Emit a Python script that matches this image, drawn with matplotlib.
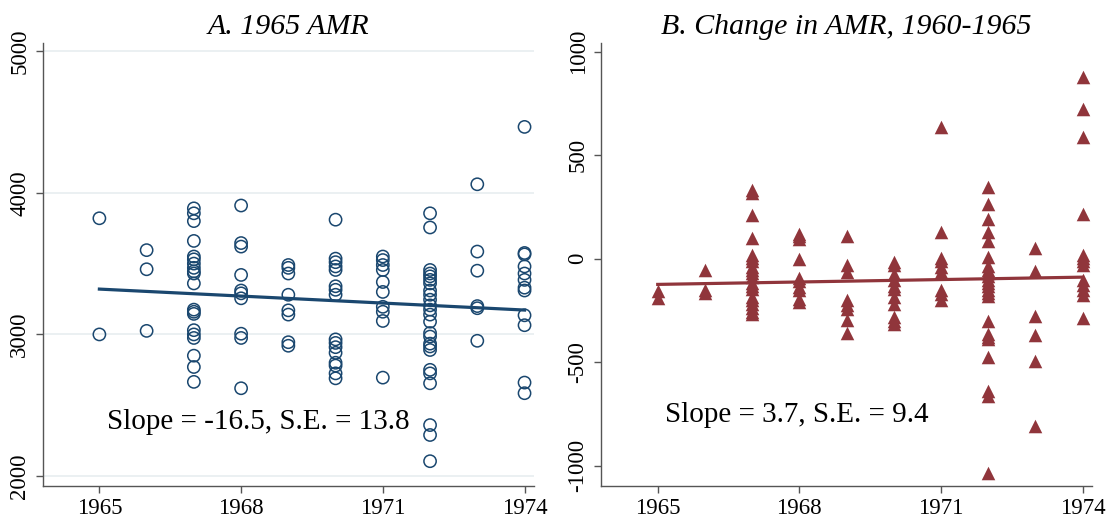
import matplotlib
matplotlib.use("Agg")
import matplotlib.pyplot as plt
import numpy as np

# ---- data ----
years = [1965, 1966, 1967, 1968, 1969, 1970, 1971, 1972, 1973, 1974]

amr_1965 = [
    [3820, 3000],
    [3595, 3460, 3025],
    [3890, 3855, 3800, 3660, 3550, 3530, 3500, 3470, 3445, 3430, 3360,
     3175, 3160, 3145, 3030, 3000, 2975, 2850, 2770, 2665],
    [3910, 3645, 3620, 3420, 3310, 3290, 3255, 3005, 2975, 2620],
    [3490, 3470, 3430, 3280, 3170, 3140, 2945, 2920],
    [3810, 3535, 3510, 3480, 3455, 3340, 3315, 3280, 2965, 2940, 2910,
     2870, 2800, 2780, 2725, 2690],
    [3550, 3525, 3490, 3455, 3370, 3300, 3195, 3160, 3095, 2695],
    [3855, 3755, 3455, 3430, 3410, 3385, 3360, 3310, 3280, 3245, 3205,
     3175, 3140, 3090, 3010, 2985, 2935, 2915, 2890, 2750, 2725, 2655,
     2360, 2290, 2105],
    [4060, 3585, 3450, 3200, 3185, 2955],
    [4465, 3575, 3565, 3480, 3430, 3385, 3330, 3310, 3135, 3065, 2660, 2585],
]

amr_change = [
    [-155, -190],
    [-53, -150, -166],
    [330, 315, 210, 100, 20, 5, -10, -40, -55, -70, -90, -115, -130, -145,
     -185, -200, -220, -240, -255, -265],
    [120, 110, 95, 0, -95, -110, -135, -150, -195, -210],
    [110, -30, -65, -200, -225, -245, -295, -360],
    [-15, -30, -75, -105, -130, -145, -185, -220, -280, -300, -315],
    [638, 128, 2, -13, -40, -65, -150, -170, -200],
    [348, 262, 192, 130, 84, 10, -37, -55, -69, -85, -101, -117, -133,
     -150, -165, -181, -301, -365, -380, -389, -476, -640, -665, -1032],
    [54, -60, -276, -366, -492, -808],
    [875, 725, 588, 215, 19, 3, -13, -29, -101, -125, -149, -173, -285],
]

# fitted lines (value at first and last year)
fit_years = [1965, 1974]
fit_1965 = [3320, 3172]
fit_change = [-124, -89]

label_1965 = "Slope = -16.5, S.E. = 13.8"
label_change = "Slope = 3.7, S.E. = 9.4"

navy = "#1a476f"
cranberry = "#90353b"
axis_col = "#555555"

plt.rcParams["font.family"] = ["Liberation Serif", "DejaVu Serif"]
plt.rcParams["axes.unicode_minus"] = False

fig = plt.figure(figsize=(11.09, 5.21), dpi=100)
ax1 = fig.add_axes([0.0385, 0.0672, 0.443, 0.851])
ax2 = fig.add_axes([0.542, 0.0672, 0.4427, 0.851])


def flatten(cols):
    xs, ys = [], []
    for yr, vals in zip(years, cols):
        xs += [yr] * len(vals)
        ys += vals
    return xs, ys


def style(ax, yticks, ylim, grid):
    for s in ["top", "right"]:
        ax.spines[s].set_visible(False)
    for s in ["left", "bottom"]:
        ax.spines[s].set_color(axis_col)
        ax.spines[s].set_linewidth(1.0)
    ax.set_xlim(1963.8, 1974.2)
    ax.set_ylim(*ylim)
    ax.set_xticks([1965, 1968, 1971, 1974])
    ax.set_yticks(yticks)
    ax.tick_params(axis="both", direction="out", length=5, width=1.0,
                   color=axis_col, labelsize=16.5, pad=4)
    for lab in ax.get_yticklabels():
        lab.set_rotation(90)
        lab.set_va("center")
    if grid:
        ax.yaxis.grid(True, color="#e7eef0", lw=1.2)
        ax.set_axisbelow(True)


# Panel A
xs, ys = flatten(amr_1965)
ax1.scatter(xs, ys, s=78, facecolors="none", edgecolors=navy, linewidths=1.1, zorder=3)
ax1.plot(fit_years, fit_1965, color=navy, lw=2.3, zorder=4)
style(ax1, [2000, 3000, 4000, 5000], (1930, 5060), True)
ax1.set_title("A. 1965 AMR", fontsize=21.5, style="italic", pad=6)
ax1.text(0.13, 0.145, label_1965, transform=ax1.transAxes, fontsize=21,
         va="center", ha="left")

# Panel B
xs, ys = flatten(amr_change)
ax2.scatter(xs, ys, s=95, marker="^", color=cranberry, linewidths=0, zorder=3)
ax2.plot(fit_years, fit_change, color=cranberry, lw=2.3, zorder=4)
style(ax2, [-1000, -500, 0, 500, 1000], (-1097, 1043), False)
ax2.set_title("B. Change in AMR, 1960-1965", fontsize=21.5, style="italic", pad=6)
ax2.text(0.13, 0.16, label_change, transform=ax2.transAxes, fontsize=21,
         va="center", ha="left")

fig.savefig("out.png", dpi=100)
